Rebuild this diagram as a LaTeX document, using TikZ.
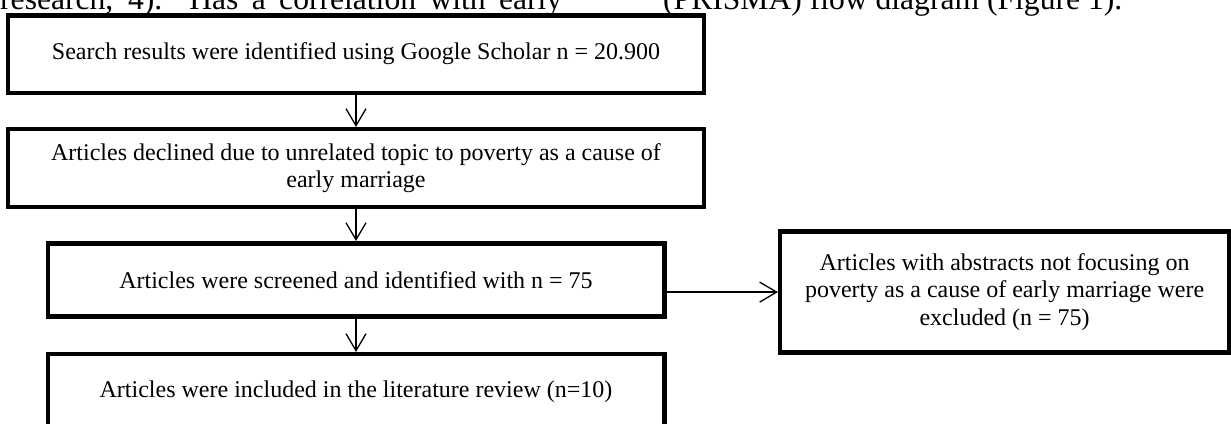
\documentclass[tikz,border=0pt]{standalone}
\usepackage{fontspec}
\setmainfont{Liberation Serif}
\usetikzlibrary{arrows.meta,positioning}
\tikzset{
    stepbox/.style={draw, line width=4.5pt, align=center, inner sep=0pt,
        font=\fontsize{24}{27.6}\selectfont},
    flowarrow/.style={line width=1.3pt,
        -{Straight Barb[length=17pt,width=20pt,line width=1.3pt]}},
    bodytext/.style={inner sep=0pt, anchor=base west,
        font=\fontsize{31.6}{38}\selectfont}
}
\begin{document}
\begin{tikzpicture}[x=1pt,y=-1pt]
\path[use as bounding box, clip] (0,0) rectangle (1231,423);
% page text cut by the figure
\node[bodytext] (bodyleft) at (0,9.5)
    {\makebox[562pt][s]{research, 4). Has a correlation with early}};
\node[bodytext] (bodyright) at (663,9.5) {(PRISMA) flow diagram (Figure 1).};
% flow boxes
\node[stepbox, minimum width=696pt, minimum height=77.5pt] (search) at (356,54)
    {Search results were identified using Google Scholar n = 20.900};
\node[stepbox, minimum width=696pt, minimum height=77.8pt] (declined) at (356,168.1)
    {Articles declined due to unrelated topic to poverty as a cause of\\early marriage};
\node[stepbox, minimum width=616.5pt, minimum height=73.3pt] (screened) at (356,279.9)
    {Articles were screened and identified with n = 75};
\node[stepbox, minimum width=616.5pt, minimum height=76pt] (included) at (356,392.2)
    {Articles were included in the literature review (n=10)};
\node[stepbox, minimum width=448.8pt, minimum height=121.2pt] (excluded) at (1004.6,292.1)
    {Articles with abstracts not focusing on\\poverty as a cause of early marriage were\\excluded (n = 75)};
% arrows
\draw[flowarrow] (search) -- (declined);
\draw[flowarrow] (declined) -- (screened);
\draw[flowarrow] (screened) -- (included);
\draw[flowarrow] (screened.east |- excluded.west) -- (excluded.west);
\end{tikzpicture}
\end{document}
